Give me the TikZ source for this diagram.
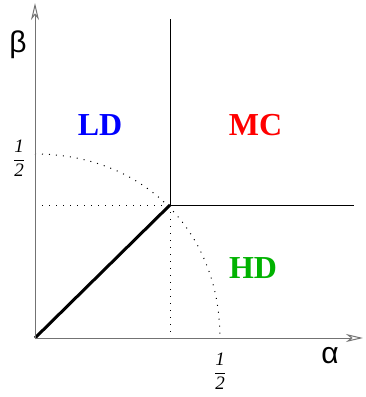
\documentclass[tikz,border=0pt]{standalone}
\usepackage{fontspec}
\setmainfont{Liberation Serif}
\newfontfamily\greekfont{Liberation Sans}
\usetikzlibrary{arrows.meta}
\definecolor{hdgreen}{RGB}{0,178,0}
\begin{document}
\begin{tikzpicture}[x=1pt,y=-1pt,
  axis/.style={draw=black!55,line width=1pt,-{Stealth[open,fill=white,length=17pt,width=8pt,inset=5pt]}},
  phase/.style={draw=black,line width=1pt},
  guide/.style={draw=black,line width=1pt,dash pattern=on 1pt off 6pt},
  region/.style={font=\fontsize{32}{36}\selectfont\bfseries},
  frac/.style={font=\fontsize{19}{22}\selectfont,inner sep=0pt},
  greek/.style={font=\greekfont\fontsize{30}{34}\selectfont,inner sep=0pt}]
\useasboundingbox (0,0) rectangle (365,397);
\coordinate (O) at (35,338);
\coordinate (Ytop) at (35,3);
\coordinate (Xend) at (363,338);
\coordinate (C) at (170,205);
\coordinate (Vtop) at (170,19);
\coordinate (Hend) at (354,205);
\coordinate (Yc) at (35,205);
\coordinate (Xc) at (170,338);
\coordinate (Yh) at (35,154);
\coordinate (Xh) at (220,338);
% dotted guides
\draw[guide] (Yc) -- (C);
\draw[guide] (C) -- (Xc);
\draw[guide] (Yh) .. controls (142.3,154) and (220,230.3) .. (Xh);
% phase boundaries
\draw[phase] (Vtop) -- (C);
\draw[phase] (C) -- (Hend);
\draw[draw=black,line width=3pt] (O) -- (C);
% axes
\draw[axis] (O) -- (Ytop);
\draw[axis] (O) -- (Xend);
% labels
\node[greek] (beta) at (18,45) {β};
\node[greek] (alpha) at (330,356) {α};
\node[frac] (yhalf) at (19,158) {$\displaystyle\frac{\textit{1}}{\textit{2}}$};
\node[frac] (xhalf) at (220,371) {$\displaystyle\frac{\textit{1}}{\textit{2}}$};
\node[region,text=blue] (LD) at (100,125) {LD};
\node[region,text=red] (MC) at (255.5,125) {MC};
\node[region,text=hdgreen] (HD) at (253,268) {HD};
\end{tikzpicture}
\end{document}
